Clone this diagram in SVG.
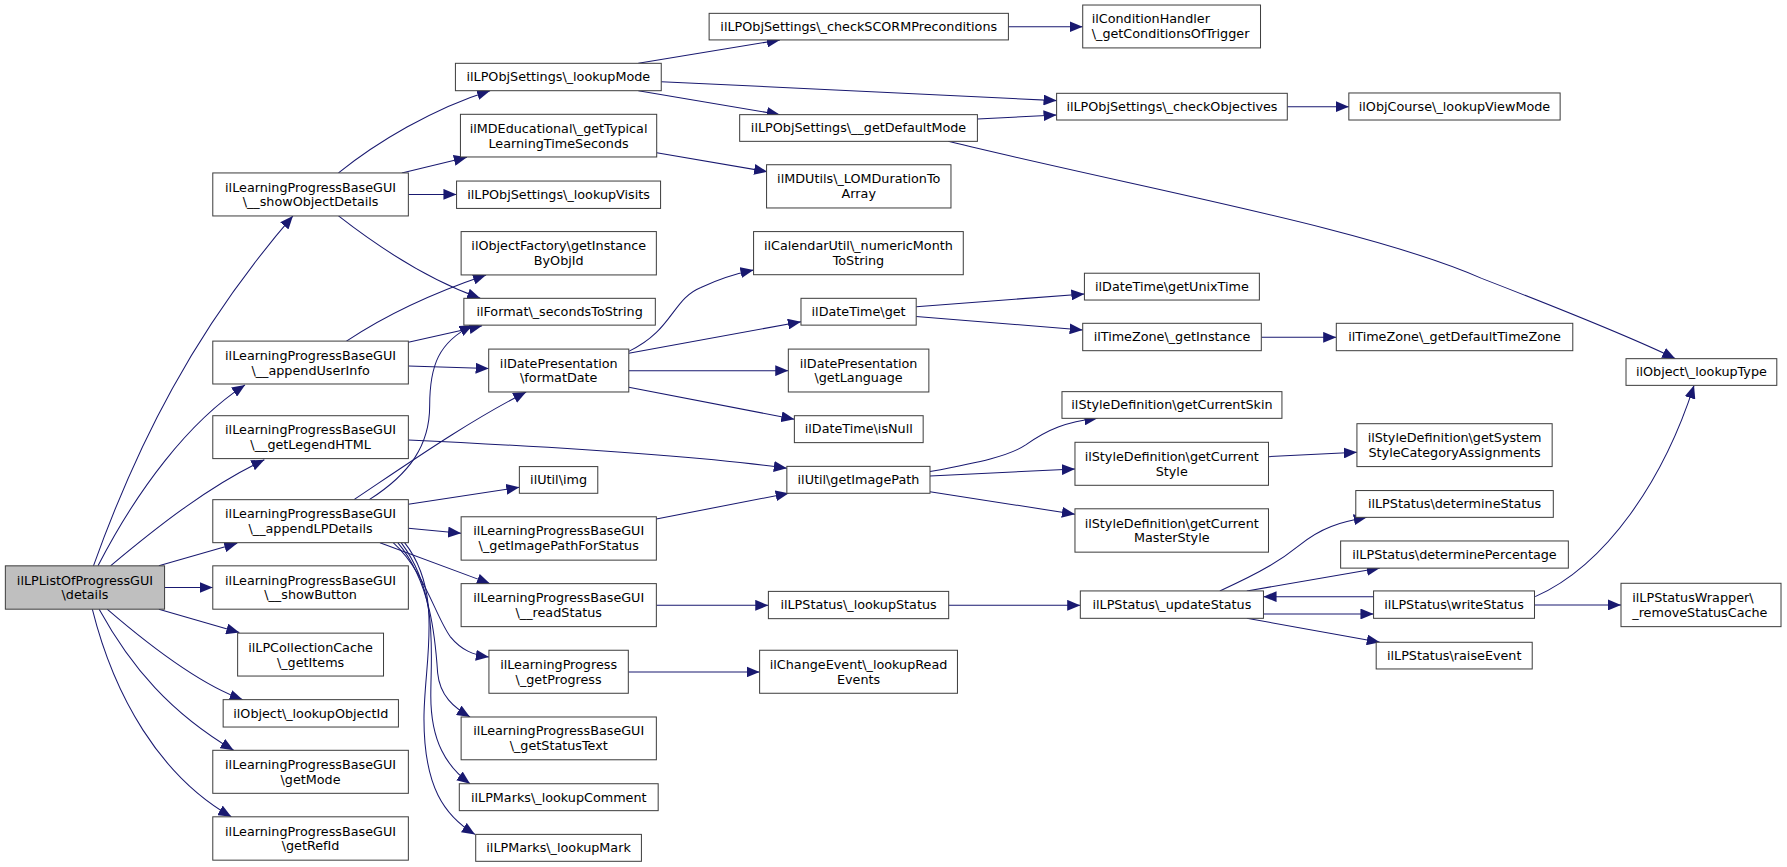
<svg xmlns="http://www.w3.org/2000/svg" width="1787" height="867" viewBox="0 0 1787 867">
<defs>
<style>
.n rect{fill:#ffffff;stroke:#404040;stroke-width:0.9}
.n.root rect{fill:#bfbfbf}
.n text{font-family:"DejaVu Sans","Liberation Sans",sans-serif;font-size:11.2px;fill:#000;text-anchor:middle}
.n text.l{text-anchor:start}
#edges path{fill:none;stroke:#191970;stroke-width:0.9;marker-end:url(#ah)}
</style>
<marker id="ah" viewBox="0 0 11.5 9.6" refX="11.5" refY="4.8" markerWidth="11.5" markerHeight="9.6" orient="auto" markerUnits="userSpaceOnUse">
<path d="M0,0 L11.5,4.8 L0,9.6 z" fill="#191970"/>
</marker>
</defs>
<rect width="1787" height="867" fill="#ffffff"/>
<g transform="scale(1.1397 1.1408)">
<g id="edges">
<path d="M82,496 C120,390 170,290 257,189.3"/>
<path d="M86,496 C120,430 165,370 215,337.4"/>
<path d="M97,496 C140,460 185,425 232,403"/>
<path d="M139.4,496 L208.2,476.2"/>
<path d="M144.4,515 L186.7,515"/>
<path d="M139.4,534 L210,554.5"/>
<path d="M94,534 C130,565 175,600 213,613.3"/>
<path d="M87,534 C115,585 150,625 205,657.7"/>
<path d="M81,534 C100,610 140,680 203,716"/>
<path d="M297,151.6 C330,125 380,95 430,79.5"/>
<path d="M352.6,151.6 L409.7,137.9"/>
<path d="M358.3,170.4 L400.6,170.4"/>
<path d="M297,189.3 C330,215 375,245 421.4,261.5"/>
<path d="M304,299 C340,275 385,255 426.5,241"/>
<path d="M358.3,300 L423,285.5"/>
<path d="M358.3,320.8 L428.8,323.1"/>
<path d="M358.3,385.7 C450,390 600,398 690.4,410.5"/>
<path d="M324,438 C360,415 377,390 377,356 C377,320 385,300 414.7,285"/>
<path d="M310.6,438 C360,405 410,370 461.7,343.6"/>
<path d="M358.3,442 L455.7,427.1"/>
<path d="M358.3,463.1 L404.6,467.5"/>
<path d="M333.4,475.7 L430,511.6"/>
<path d="M345,475.7 C372,500 382,540 395,558 C405,570 415,574 429,576"/>
<path d="M349,475.7 C378,510 382,560 384,590 C386,610 398,620 412.4,628.5"/>
<path d="M352,475.7 C385,520 378,570 378,610 C378,650 392,672 412.4,687"/>
<path d="M355,475.7 C390,520 372,580 372,630 C372,690 390,715 416.8,731.4"/>
<path d="M560.1,55.5 L684.3,35"/>
<path d="M580.2,71.6 L927.1,88.2"/>
<path d="M560.1,79.5 L684.3,100.5"/>
<path d="M576.2,133.8 L673.2,150.5"/>
<path d="M857.6,104.3 L927.1,100.8"/>
<path d="M832,123.9 C1000,165 1200,200 1300,244 C1380,275 1430,295 1470,314.4"/>
<path d="M884.8,23.4 L950,23.4"/>
<path d="M1129.5,93.5 L1183.5,93.5"/>
<path d="M551.7,308 C590,290 590,262 615,252 C630,245 645,240 661.2,236.7"/>
<path d="M551.7,309.7 L702.8,282"/>
<path d="M551.7,324.9 L691.7,324.9"/>
<path d="M551.7,339.5 L697,367.5"/>
<path d="M803.9,268.8 L951.5,257.7"/>
<path d="M803.9,277.5 L950,289.2"/>
<path d="M1106.7,295.7 L1172.5,295.7"/>
<path d="M816,413.4 C860,405 885,400 900,390 C920,376 935,370 963,366.7"/>
<path d="M816,417.2 L943.2,411.1"/>
<path d="M816,431 L943.2,450.8"/>
<path d="M1113,400.3 L1190.6,396.5"/>
<path d="M575.9,454.9 L692,432.4"/>
<path d="M575.9,530.6 L674.2,530.6"/>
<path d="M551.3,589 L666.5,589"/>
<path d="M832.4,530.6 L947.9,530.6"/>
<path d="M1070.3,518 C1110,500 1125,490 1140,478 C1160,462 1175,458 1199.3,453.5"/>
<path d="M1094,518 L1210.7,498"/>
<path d="M1108.6,538.2 L1205.2,538.2"/>
<path d="M1205.2,523 L1108.6,523"/>
<path d="M1094,542 L1210.7,563"/>
<path d="M1347,523 C1410,495 1460,420 1486.4,337.8"/>
<path d="M1346.4,530.3 L1422.3,530.3"/>
</g>
<g id="n0" class="n root"><rect x="4.7" y="496" width="139.7" height="38"/><text x="74.55" y="512.4">ilLPListOfProgressGUI</text><text x="74.55" y="525.5">\details</text></g>
<g id="n1" class="n"><rect x="186.7" y="151.6" width="171.6" height="37.7"/><text x="272.5" y="167.9">ilLearningProgressBaseGUI</text><text x="272.5" y="181">\__showObjectDetails</text></g>
<g id="n2" class="n"><rect x="186.7" y="299" width="171.6" height="37.6"/><text x="272.5" y="315.2">ilLearningProgressBaseGUI</text><text x="272.5" y="328.3">\__appendUserInfo</text></g>
<g id="n3" class="n"><rect x="186.7" y="364.4" width="171.6" height="37.6"/><text x="272.5" y="380.6">ilLearningProgressBaseGUI</text><text x="272.5" y="393.7">\__getLegendHTML</text></g>
<g id="n4" class="n"><rect x="186.7" y="438" width="171.6" height="37.7"/><text x="272.5" y="454.3">ilLearningProgressBaseGUI</text><text x="272.5" y="467.4">\__appendLPDetails</text></g>
<g id="n5" class="n"><rect x="186.7" y="496" width="171.6" height="38"/><text x="272.5" y="512.4">ilLearningProgressBaseGUI</text><text x="272.5" y="525.5">\__showButton</text></g>
<g id="n6" class="n"><rect x="208.5" y="555" width="128" height="37.6"/><text x="272.5" y="571.2">ilLPCollectionCache</text><text x="272.5" y="584.3">\_getItems</text></g>
<g id="n7" class="n"><rect x="195.8" y="613.3" width="153.8" height="24"/><text x="272.7" y="629.1">ilObject\_lookupObjectId</text></g>
<g id="n8" class="n"><rect x="186.7" y="657.7" width="171.6" height="37.7"/><text x="272.5" y="674">ilLearningProgressBaseGUI</text><text x="272.5" y="687.1">\getMode</text></g>
<g id="n9" class="n"><rect x="186.7" y="716" width="171.6" height="38"/><text x="272.5" y="732.4">ilLearningProgressBaseGUI</text><text x="272.5" y="745.5">\getRefId</text></g>
<g id="n10" class="n"><rect x="399.6" y="55.5" width="180.6" height="24"/><text x="489.9" y="71.3">ilLPObjSettings\_lookupMode</text></g>
<g id="n11" class="n"><rect x="404" y="100.2" width="172.2" height="37.4"/><text x="490.1" y="116.3">ilMDEducational\_getTypical</text><text x="490.1" y="129.4">LearningTimeSeconds</text></g>
<g id="n12" class="n"><rect x="400.6" y="158.7" width="179" height="24"/><text x="490.1" y="174.5">ilLPObjSettings\_lookupVisits</text></g>
<g id="n13" class="n"><rect x="404.6" y="203" width="171.3" height="38"/><text x="490.25" y="219.4">ilObjectFactory\getInstance</text><text x="490.25" y="232.5">ByObjId</text></g>
<g id="n14" class="n"><rect x="407" y="261.5" width="168" height="23.5"/><text x="491" y="277.05">ilFormat\_secondsToString</text></g>
<g id="n15" class="n"><rect x="428.8" y="306" width="122.9" height="37.6"/><text x="490.25" y="322.2">ilDatePresentation</text><text x="490.25" y="335.3">\formatDate</text></g>
<g id="n16" class="n"><rect x="455.7" y="409" width="68.8" height="23.4"/><text x="490.1" y="424.5">ilUtil\img</text></g>
<g id="n17" class="n"><rect x="404.6" y="453" width="171.3" height="38"/><text x="490.25" y="469.4">ilLearningProgressBaseGUI</text><text x="490.25" y="482.5">\_getImagePathForStatus</text></g>
<g id="n18" class="n"><rect x="404.6" y="511.6" width="171.3" height="37.7"/><text x="490.25" y="527.9">ilLearningProgressBaseGUI</text><text x="490.25" y="541">\__readStatus</text></g>
<g id="n19" class="n"><rect x="429" y="570" width="122.3" height="37.7"/><text x="490.15" y="586.3">ilLearningProgress</text><text x="490.15" y="599.4">\_getProgress</text></g>
<g id="n20" class="n"><rect x="404.6" y="628.5" width="171.3" height="37.5"/><text x="490.25" y="644.7">ilLearningProgressBaseGUI</text><text x="490.25" y="657.8">\_getStatusText</text></g>
<g id="n21" class="n"><rect x="403" y="687" width="174.5" height="23.6"/><text x="490.25" y="702.6">ilLPMarks\_lookupComment</text></g>
<g id="n22" class="n"><rect x="417.4" y="731.4" width="145.4" height="23.6"/><text x="490.1" y="747">ilLPMarks\_lookupMark</text></g>
<g id="n23" class="n"><rect x="622.2" y="11.7" width="262.6" height="23.3"/><text x="753.5" y="27.15">ilLPObjSettings\_checkSCORMPreconditions</text></g>
<g id="n24" class="n"><rect x="649" y="100.5" width="208.6" height="23.4"/><text x="753.3" y="116">ilLPObjSettings\__getDefaultMode</text></g>
<g id="n25" class="n"><rect x="672.6" y="144.4" width="161.8" height="37.9"/><text x="753.5" y="160.8">ilMDUtils\_LOMDurationTo</text><text x="753.5" y="173.9">Array</text></g>
<g id="n26" class="n"><rect x="661.2" y="203" width="184" height="37.8"/><text x="753.2" y="219.3">ilCalendarUtil\_numericMonth</text><text x="753.2" y="232.4">ToString</text></g>
<g id="n27" class="n"><rect x="702.8" y="261.5" width="101.1" height="23.5"/><text x="753.35" y="277.05">ilDateTime\get</text></g>
<g id="n28" class="n"><rect x="691.7" y="306" width="123.3" height="37.6"/><text x="753.35" y="322.2">ilDatePresentation</text><text x="753.35" y="335.3">\getLanguage</text></g>
<g id="n29" class="n"><rect x="697" y="364.4" width="113" height="23.6"/><text x="753.5" y="380">ilDateTime\isNull</text></g>
<g id="n30" class="n"><rect x="690.4" y="408.8" width="125.6" height="23.6"/><text x="753.2" y="424.4">ilUtil\getImagePath</text></g>
<g id="n31" class="n"><rect x="674.2" y="518.4" width="158.2" height="23.9"/><text x="753.3" y="534.15">ilLPStatus\_lookupStatus</text></g>
<g id="n32" class="n"><rect x="666.5" y="570" width="173.6" height="37.7"/><text x="753.3" y="586.3">ilChangeEvent\_lookupRead</text><text x="753.3" y="599.4">Events</text></g>
<g id="n33" class="n"><rect x="950" y="4.4" width="156" height="37.6"/><text class="l" x="957.9" y="20.6">ilConditionHandler</text><text class="l" x="957.9" y="33.7">\_getConditionsOfTrigger</text></g>
<g id="n34" class="n"><rect x="927.1" y="81.8" width="202.4" height="23.4"/><text x="1028.3" y="97.3">ilLPObjSettings\_checkObjectives</text></g>
<g id="n35" class="n"><rect x="951.5" y="239.5" width="153.5" height="23.5"/><text x="1028.25" y="255.05">ilDateTime\getUnixTime</text></g>
<g id="n36" class="n"><rect x="950" y="283.4" width="156.7" height="24"/><text x="1028.35" y="299.2">ilTimeZone\_getInstance</text></g>
<g id="n37" class="n"><rect x="931.8" y="343.3" width="193" height="23.4"/><text x="1028.3" y="358.8">ilStyleDefinition\getCurrentSkin</text></g>
<g id="n38" class="n"><rect x="943.2" y="387.7" width="169.8" height="37.7"/><text x="1028.1" y="404">ilStyleDefinition\getCurrent</text><text x="1028.1" y="417.1">Style</text></g>
<g id="n39" class="n"><rect x="943.2" y="446" width="169.8" height="38"/><text x="1028.1" y="462.4">ilStyleDefinition\getCurrent</text><text x="1028.1" y="475.5">MasterStyle</text></g>
<g id="n40" class="n"><rect x="947.9" y="518" width="160.7" height="24"/><text x="1028.25" y="533.8">ilLPStatus\_updateStatus</text></g>
<g id="n41" class="n"><rect x="1183.5" y="81.5" width="185.4" height="23.7"/><text x="1276.2" y="97.15">ilObjCourse\_lookupViewMode</text></g>
<g id="n42" class="n"><rect x="1172.5" y="283.4" width="207.5" height="24"/><text x="1276.25" y="299.2">ilTimeZone\_getDefaultTimeZone</text></g>
<g id="n43" class="n"><rect x="1190.6" y="371.4" width="171.3" height="37.6"/><text x="1276.25" y="387.6">ilStyleDefinition\getSystem</text><text x="1276.25" y="400.7">StyleCategoryAssignments</text></g>
<g id="n44" class="n"><rect x="1189.6" y="430" width="173.3" height="23.5"/><text x="1276.25" y="445.55">ilLPStatus\determineStatus</text></g>
<g id="n45" class="n"><rect x="1176.3" y="474.2" width="199.8" height="23.8"/><text x="1276.2" y="489.9">ilLPStatus\determinePercentage</text></g>
<g id="n46" class="n"><rect x="1205.2" y="518" width="141.2" height="24"/><text x="1275.8" y="533.8">ilLPStatus\writeStatus</text></g>
<g id="n47" class="n"><rect x="1207.5" y="563" width="136.9" height="23.4"/><text x="1275.95" y="578.5">ilLPStatus\raiseEvent</text></g>
<g id="n48" class="n"><rect x="1426.7" y="314.4" width="132.3" height="23.4"/><text x="1492.85" y="329.9">ilObject\_lookupType</text></g>
<g id="n49" class="n"><rect x="1422.3" y="511.3" width="140.4" height="38"/><text class="l" x="1432.2" y="527.7">ilLPStatusWrapper\</text><text class="l" x="1432.2" y="540.8">_removeStatusCache</text></g>
</g>
</svg>
